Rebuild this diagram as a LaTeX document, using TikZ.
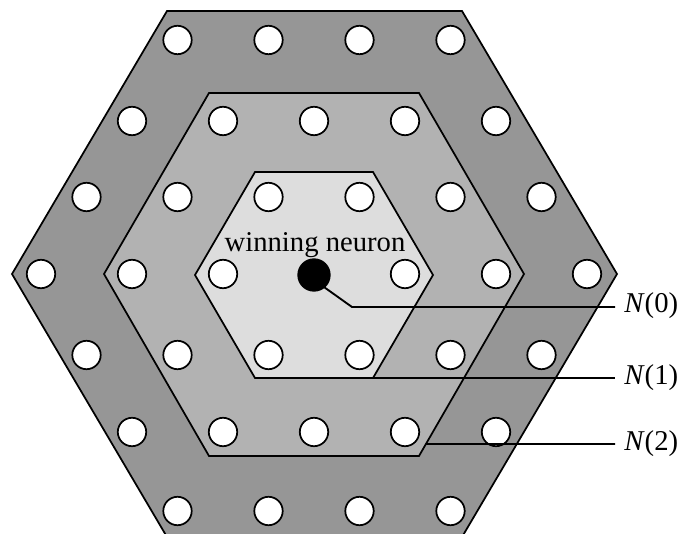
\documentclass[tikz,border=0pt]{standalone}
\usepackage{fontspec}
\setmainfont{Liberation Serif}
\usetikzlibrary{calc}
\definecolor{ringtwo}{HTML}{969696}
\definecolor{ringone}{HTML}{B2B2B2}
\definecolor{ringzero}{HTML}{DDDDDD}
\begin{document}
\begin{tikzpicture}[x=0.75pt,y=-0.75pt,
  hexring/.style={draw=black, line width=1.3pt, line join=miter},
  neuron/.style={circle, draw=black, fill=white, line width=1.3pt, minimum size=21.3pt, inner sep=0pt, outer sep=0pt},
  winner/.style={circle, draw=black, fill=black, line width=1pt, minimum size=24pt, inner sep=0pt, outer sep=0pt},
  lead/.style={draw=black, line width=1.4pt},
  lbl/.style={font=\fontsize{21.5}{24}\selectfont, inner sep=0pt}]
\useasboundingbox (0,0) rectangle (681,534);
\clip (0,0) rectangle (681,534);
% rings
\draw[hexring, fill=ringtwo] (12,274) -- (167,11) -- (462,11) -- (617,274) -- (462,537) -- (167,537) -- cycle;
\draw[hexring, fill=ringone] (104,274) -- (209,93) -- (419,93) -- (524,274) coordinate (m-r) -- (419,456) coordinate (m-br) -- (209,456) -- cycle;
\draw[hexring, fill=ringzero] (195,275) -- (255,172) -- (373,172) -- (433,275) -- (373,378) coordinate (i-br) -- (255,378) -- cycle;
% neurons
\foreach \x [count=\i] in {177.5,268.5,359.5,450.5} \node[neuron] (ra-\i) at (\x,40) {};
\foreach \x [count=\i] in {132,223,314,405,496} \node[neuron] (rb-\i) at (\x,121) {};
\foreach \x [count=\i] in {86.5,177.5,268.5,359.5,450.5,541.5} \node[neuron] (rc-\i) at (\x,197) {};
\foreach \x [count=\i] in {41,132,223,405,496,587} \node[neuron] (rd-\i) at (\x,274) {};
\foreach \x [count=\i] in {86.5,177.5,268.5,359.5,450.5,541.5} \node[neuron] (re-\i) at (\x,355) {};
\foreach \x [count=\i] in {132,223,314,405,496} \node[neuron] (rf-\i) at (\x,432) {};
\foreach \x [count=\i] in {177.5,268.5,359.5,450.5} \node[neuron] (rg-\i) at (\x,511) {};
\node[winner] (win) at (314,275) {};
\node[lbl, anchor=base] (wtext) at (315,252) {winning neuron};
% leaders
\coordinate (k0) at (352,307);
\coordinate (e0) at (615,307);
\coordinate (e1) at (615,378);
\coordinate (e2) at (615,444);
\coordinate (n2s) at ($(m-br)!0.066!(m-r)$);
\draw[lead] (win.-50) -- (k0) -- (e0);
\draw[lead] (i-br) -- (e1);
\draw[lead] (n2s) -- (e2);
\node[lbl, anchor=base west] (n0) at (624,313) {\textit{N}(0)};
\node[lbl, anchor=base west] (n1) at (624,384) {\textit{N}(1)};
\node[lbl, anchor=base west] (n2) at (624,450) {\textit{N}(2)};
\end{tikzpicture}
\end{document}
